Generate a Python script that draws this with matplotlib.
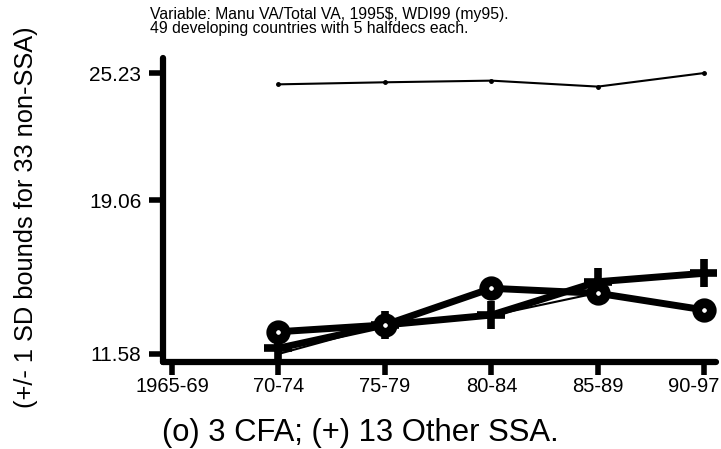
import matplotlib
matplotlib.use("Agg")
import matplotlib.pyplot as plt
import matplotlib.transforms as mtransforms

periods = ["1965-69", "70-74", "75-79", "80-84", "85-89", "90-97"]
x_data = [1, 2, 3, 4, 5]
upper_bound = [24.68, 24.78, 24.86, 24.57, 25.23]
lower_bound = [11.58, 13.00, 13.45, 14.55, 13.75]
cfa = [12.66, 12.99, 14.77, 14.53, 13.72]
other_ssa = [11.86, 12.99, 13.47, 15.09, 15.50]
y_ticks = [11.58, 19.06, 25.23]
y_tick_labels = ["11.58", "19.06", "25.23"]

plt.rcParams['font.family'] = ['Liberation Sans', 'DejaVu Sans']

fig = plt.figure(figsize=(7.21, 4.49), dpi=100)
ax = fig.add_axes([163/721, 1-362/449, (716-163)/721, (362-58)/449])

ax.plot(x_data, upper_bound, color='black', lw=1.5, marker='o', ms=2.5, solid_capstyle='round')
ax.plot(x_data, lower_bound, color='black', lw=1.5, solid_capstyle='round')
ax.plot(x_data, other_ssa, color='black', lw=5, marker='+', ms=20, mew=5.5,
        solid_capstyle='round', solid_joinstyle='round')
ax.plot(x_data, cfa, color='black', lw=5, marker='o', ms=10.5, mew=7, mfc='white',
        solid_capstyle='round', solid_joinstyle='round')

ax.set_xlim(-0.085, 5.11)
ax.set_ylim(11.19, 25.96)

for s in ['top', 'right']:
    ax.spines[s].set_visible(False)
for s in ['left', 'bottom']:
    ax.spines[s].set_linewidth(4.5)
    ax.spines[s].set_capstyle('round')

ax.set_xticks(range(len(periods)))
ax.set_xticklabels(periods, fontsize=14.5)
ax.set_yticks(y_ticks)
ax.set_yticklabels(y_tick_labels, fontsize=15)
ax.tick_params(axis='x', length=9, width=4, pad=2)
ax.tick_params(axis='y', length=10, width=4, pad=5.5)

# keep last x label inside the figure
last = ax.get_xticklabels()[-1]
last.set_horizontalalignment('right')
last.set_transform(last.get_transform() + mtransforms.ScaledTranslation(15/100, 0, fig.dpi_scale_trans))

fig.text(26/721, 1-217/449, "(+/- 1 SD bounds for 33 non-SSA)", rotation=90,
         ha='center', va='center', fontsize=18.3)
fig.text(150/721, 1-14/449, "Variable: Manu VA/Total VA, 1995$, WDI99 (my95).",
         ha='left', va='center', fontsize=11.3)
fig.text(150/721, 1-29/449, "49 developing countries with 5 halfdecs each.",
         ha='left', va='center', fontsize=11.3)
fig.text(360/721, 1-433/449, "(o) 3 CFA; (+) 13 Other SSA.",
         ha='center', va='center', fontsize=22.3)

fig.savefig("out.png", dpi=100)
